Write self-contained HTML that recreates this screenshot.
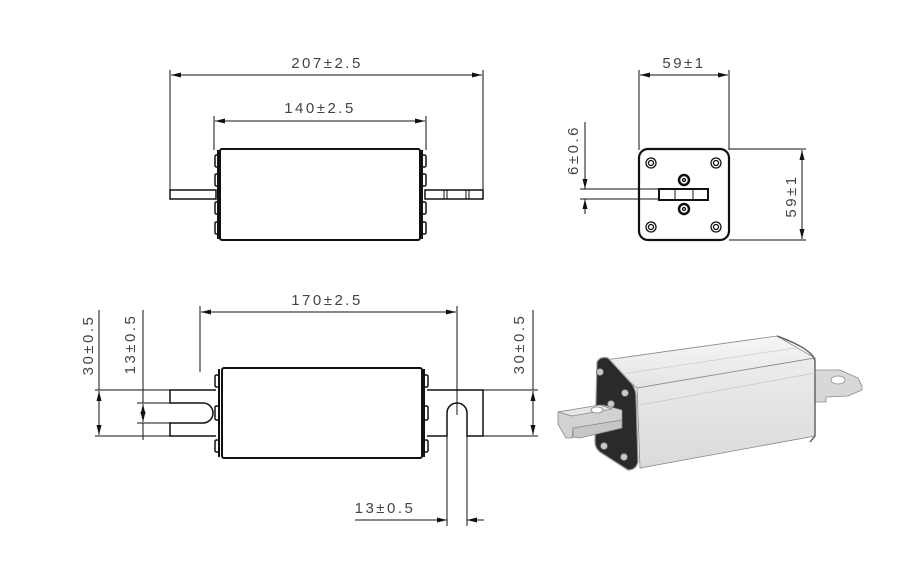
<!DOCTYPE html>
<html><head><meta charset="utf-8"><style>
html,body{margin:0;padding:0;background:#fff;width:900px;height:563px;overflow:hidden}
svg{display:block}
text{font-family:"Liberation Sans",sans-serif;font-size:15px;fill:#444;letter-spacing:2.5px}
</style></head><body>
<svg width="900" height="563" viewBox="0 0 900 563" xmlns="http://www.w3.org/2000/svg">
<defs>
<marker id="a" viewBox="0 0 10 6" refX="10" refY="3" markerWidth="10" markerHeight="6" orient="auto-start-reverse" markerUnits="userSpaceOnUse"><path d="M0,0.5L10,3L0,5.5z" fill="#111"/></marker>
<linearGradient id="g1" x1="0" y1="0" x2="0" y2="1"><stop offset="0" stop-color="#f6f6f6"/><stop offset="1" stop-color="#e4e4e4"/></linearGradient>
<linearGradient id="g2" x1="0" y1="0" x2="0" y2="1"><stop offset="0" stop-color="#ececec"/><stop offset="1" stop-color="#dadada"/></linearGradient>
</defs>
<g stroke="#111" fill="none" stroke-width="1">
<!-- TOP VIEW -->
<line x1="170" y1="70" x2="170" y2="199"/><line x1="483" y1="70" x2="483" y2="199"/>
<line x1="171" y1="75" x2="482" y2="75" marker-start="url(#a)" marker-end="url(#a)"/>
<line x1="214" y1="116" x2="214" y2="150"/><line x1="426" y1="116" x2="426" y2="150"/>
<line x1="215" y1="121" x2="425" y2="121" marker-start="url(#a)" marker-end="url(#a)"/>
<rect x="170" y="190" width="46" height="9" stroke-width="1.5"/>
<rect x="425" y="190" width="58" height="9" stroke-width="1.5"/>
<line x1="444" y1="190" x2="444" y2="199"/><line x1="447" y1="190" x2="447" y2="199"/>
<line x1="466" y1="190" x2="466" y2="199"/><line x1="469" y1="190" x2="469" y2="199"/>
<rect x="220" y="149" width="200" height="91" rx="2" stroke-width="2"/>
<line x1="218" y1="150" x2="218" y2="239" stroke-width="2"/><line x1="422" y1="150" x2="422" y2="239" stroke-width="2"/>
<g stroke-width="1.5">
<rect x="215" y="155" width="4" height="12" rx="1.5"/><rect x="215" y="174" width="4" height="12" rx="1.5"/><rect x="215" y="202" width="4" height="12" rx="1.5"/><rect x="215" y="222" width="4" height="12" rx="1.5"/>
<rect x="422" y="155" width="4" height="12" rx="1.5"/><rect x="422" y="174" width="4" height="12" rx="1.5"/><rect x="422" y="202" width="4" height="12" rx="1.5"/><rect x="422" y="222" width="4" height="12" rx="1.5"/>
</g>
<!-- END VIEW -->
<line x1="639" y1="70" x2="639" y2="150"/><line x1="729" y1="70" x2="729" y2="150"/>
<line x1="640" y1="75" x2="728" y2="75" marker-start="url(#a)" marker-end="url(#a)"/>
<line x1="729" y1="149" x2="806" y2="149"/><line x1="729" y1="240" x2="806" y2="240"/>
<line x1="802" y1="150" x2="802" y2="239" marker-start="url(#a)" marker-end="url(#a)"/>
<rect x="639" y="149" width="90" height="91" rx="9" stroke-width="2.2"/>
<g stroke-width="1.3">
<circle cx="651" cy="163" r="5"/><circle cx="651" cy="163" r="2.5"/>
<circle cx="716" cy="163" r="5"/><circle cx="716" cy="163" r="2.5"/>
<circle cx="651" cy="227" r="5"/><circle cx="651" cy="227" r="2.5"/>
<circle cx="716" cy="227" r="5"/><circle cx="716" cy="227" r="2.5"/>
<circle cx="684" cy="180" r="5" stroke-width="2.5"/><circle cx="684" cy="180" r="1.5"/>
<circle cx="684" cy="209" r="5" stroke-width="2.5"/><circle cx="684" cy="209" r="1.5"/>
</g>
<rect x="659" y="189" width="49" height="11" stroke-width="2" fill="#fff"/>
<line x1="675" y1="189" x2="675" y2="200"/><line x1="693" y1="189" x2="693" y2="200"/>
<line x1="580" y1="189" x2="659" y2="189"/><line x1="580" y1="199" x2="659" y2="199"/>
<line x1="585" y1="122" x2="585" y2="189" /><line x1="585" y1="175" x2="585" y2="189" marker-end="url(#a)"/>
<line x1="585" y1="214" x2="585" y2="199" marker-end="url(#a)"/>
<!-- BOTTOM VIEW -->
<line x1="200" y1="306" x2="200" y2="372"/><line x1="457" y1="306" x2="457" y2="415"/>
<line x1="201" y1="312" x2="456" y2="312" marker-start="url(#a)" marker-end="url(#a)"/>
<path d="M216,390 H170 V403 H203 A10,10 0 0 1 203,423 H170 V436 H216" stroke-width="1.5"/>
<path d="M427,390 H483 V436 H467 V413 A10,10 0 0 0 447,413 V436 H427" stroke-width="1.5"/>
<rect x="222" y="368" width="200" height="90" rx="2" stroke-width="2"/>
<line x1="219" y1="369" x2="219" y2="457" stroke-width="2"/><line x1="424" y1="369" x2="424" y2="457" stroke-width="2"/>
<g stroke-width="1.5">
<rect x="215" y="375" width="4" height="12" rx="1.5"/><rect x="215" y="406" width="4" height="14" rx="1.5"/><rect x="215" y="440" width="4" height="12" rx="1.5"/>
<rect x="424" y="375" width="4" height="12" rx="1.5"/><rect x="424" y="406" width="4" height="14" rx="1.5"/><rect x="424" y="440" width="4" height="12" rx="1.5"/>
</g>
<line x1="95" y1="390" x2="170" y2="390"/><line x1="95" y1="436" x2="170" y2="436"/>
<line x1="99" y1="310" x2="99" y2="390"/>
<line x1="99" y1="391" x2="99" y2="435" marker-start="url(#a)" marker-end="url(#a)"/>
<line x1="137" y1="403" x2="170" y2="403"/><line x1="137" y1="423" x2="170" y2="423"/>
<line x1="143" y1="310" x2="143" y2="403"/>
<line x1="143" y1="404" x2="143" y2="422" marker-start="url(#a)" marker-end="url(#a)"/>
<line x1="143" y1="423" x2="143" y2="440"/>
<line x1="483" y1="390" x2="538" y2="390"/><line x1="483" y1="436" x2="538" y2="436"/>
<line x1="533" y1="310" x2="533" y2="390"/>
<line x1="533" y1="391" x2="533" y2="435" marker-start="url(#a)" marker-end="url(#a)"/>
<line x1="447" y1="436" x2="447" y2="526"/><line x1="467" y1="436" x2="467" y2="526"/>
<line x1="355" y1="520" x2="447" y2="520"/>
<line x1="434" y1="520" x2="447" y2="520" marker-end="url(#a)"/>
<line x1="484" y1="520" x2="467" y2="520" marker-end="url(#a)"/>
</g>
<!-- 3D VIEW -->
<g stroke="#888" stroke-width="0.8">
<path d="M812,378 L815,370 L840,370 L858,378 L862,386 L862,390 L848,396 L826,397 L826,402 L815,402 Z" fill="#d8d8d8"/>
<ellipse cx="838" cy="380" rx="7" ry="4" fill="#fff"/>
<path d="M605,360 L777,336 L815,358 L637,388 Z" fill="url(#g1)"/>
<path d="M637,388 L815,358 L815,436 L640,468 Z" fill="url(#g2)"/>
<path d="M777,336 Q815,350 815,362 L815,436 L810,442" fill="none" stroke="#666" stroke-width="1.5"/>
<line x1="640" y1="405" x2="815" y2="373" stroke="#c8c8c8"/>
<line x1="622" y1="374" x2="795" y2="348" stroke="#d0d0d0"/>
<path d="M597,362 Q600,356 608,358 L632,384 Q636,390 636,396 L638,462 Q636,470 628,470 L600,452 Q595,448 595,442 Z" fill="#2a2a2a" stroke="#999" stroke-width="1.2"/>
<g fill="#c8c8c8" stroke="#666">
<circle cx="600" cy="372" r="3.5"/><circle cx="625" cy="393" r="3.5"/><circle cx="611" cy="404" r="3.5"/>
<circle cx="604" cy="446" r="3.5"/><circle cx="624" cy="457" r="3.5"/>
</g>
<path d="M558,412 L603,405 L622,410 L622,422 L585,428 L573,428 L572,438 L566,438 L558,424 Z" fill="#d2d2d2"/>
<path d="M558,412 L600,405 L612,409 L572,416 Z" fill="#e6e6e6"/>
<ellipse cx="597" cy="410" rx="6" ry="3" fill="#fff"/>
<path d="M573,428 L622,420 L622,428 L580,438 L573,437 Z" fill="#c6c6c6"/>
</g>
<!-- TEXT -->
<text x="327" y="68" text-anchor="middle">207±2.5</text>
<text x="320" y="113" text-anchor="middle">140±2.5</text>
<text x="684" y="68" text-anchor="middle">59±1</text>
<text x="327" y="305" text-anchor="middle">170±2.5</text>
<text x="385" y="513" text-anchor="middle">13±0.5</text>
<text transform="translate(796,196) rotate(-90)" text-anchor="middle">59±1</text>
<text transform="translate(578,150) rotate(-90)" text-anchor="middle">6±0.6</text>
<text transform="translate(93,345) rotate(-90)" text-anchor="middle">30±0.5</text>
<text transform="translate(135,344) rotate(-90)" text-anchor="middle">13±0.5</text>
<text transform="translate(524,344) rotate(-90)" text-anchor="middle">30±0.5</text>
</svg>
</body></html>
